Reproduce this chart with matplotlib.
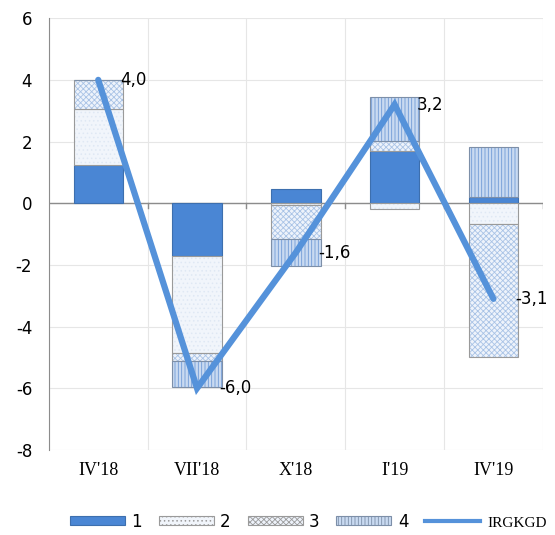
import numpy as np
import matplotlib.pyplot as plt
from matplotlib.patches import Patch
from matplotlib.lines import Line2D

plt.rcParams['hatch.linewidth'] = 0.6

# data
periods = ["IV'18", "VII'18", "X'18", "I'19", "IV'19"]
s1 = [1.25, -1.70, 0.45, 1.70, 0.20]
s2 = [1.80, -3.15, -0.07, -0.18, -0.68]
s3 = [0.95, -0.25, -1.08, 0.32, -4.30]
s4 = [0.00, -0.85, -0.90, 1.41, 1.62]
irgkgd = [4.0, -6.0, -1.6, 3.2, -3.1]
series_names = ['1', '2', '3', '4']

blue = '#4a86d4'
line_blue = '#5592da'
styles = [
    dict(facecolor=blue, edgecolor='#3d6fae', hatch=None),
    dict(facecolor='#f1f5fb', edgecolor='#9a9a9a', hatch='....', hc='#dfe8f4'),
    dict(facecolor='#eef3fb', edgecolor='#9a9a9a', hatch='xxxxxx', hc='#a9c3e6'),
    dict(facecolor='#c9daf1', edgecolor='#7d8fa8', hatch='|||||', hc='#6f9ad6'),
]

fig = plt.figure(figsize=(5.55, 5.35), dpi=100)
ax = fig.add_axes([0.088, 0.159, 0.890, 0.807])

x = np.arange(len(periods))
width = 0.5
pos_base = np.zeros(len(periods))
neg_base = np.zeros(len(periods))
for vals, st in zip([s1, s2, s3, s4], styles):
    vals = np.array(vals)
    bottoms = np.where(vals >= 0, pos_base, neg_base)
    bars = ax.bar(x, vals, width, bottom=bottoms, facecolor=st['facecolor'],
                  edgecolor=st['edgecolor'], linewidth=0.8, zorder=3)
    if st['hatch']:
        for b in bars:
            b.set_hatch(st['hatch'])
            b._hatch_color = plt.matplotlib.colors.to_rgba(st['hc'])
    pos_base += np.where(vals >= 0, vals, 0)
    neg_base += np.where(vals < 0, vals, 0)

ax.plot(x, irgkgd, color=line_blue, linewidth=4.5, zorder=4,
        solid_capstyle='round', solid_joinstyle='miter')
for xi, v in zip(x, irgkgd):
    ax.annotate(f'{v:.1f}'.replace('.', ','), (xi, v), xytext=(16, 0),
                textcoords='offset points', ha='left', va='center',
                fontsize=12, zorder=5)

ax.set_xlim(-0.5, len(periods) - 0.5)
ax.set_ylim(-8, 6)
ax.set_yticks(np.arange(-8, 7, 2))
ax.set_yticklabels([str(t) for t in range(-8, 7, 2)], fontsize=12)
ax.set_xticks(x)
ax.set_xticklabels(periods, fontsize=13, family='Liberation Serif')
ax.tick_params(axis='x', length=0, pad=9)
ax.tick_params(axis='y', length=0, pad=12)

for gy in range(-8, 7, 2):
    ax.axhline(gy, color='#e6e6e6', linewidth=0.8, zorder=0)
for gx in np.arange(-0.5, len(periods), 1.0):
    ax.axvline(gx, color='#e6e6e6', linewidth=0.8, zorder=0)
ax.axhline(0, color='#8c8c8c', linewidth=1.0, zorder=2)
for gx in np.arange(0.5, len(periods), 1.0):
    ax.plot([gx, gx], [0, -0.15], color='#8c8c8c', linewidth=1.0, zorder=2)

for side in ['top', 'right', 'bottom']:
    ax.spines[side].set_visible(False)
ax.spines['left'].set_color('#8c8c8c')

handles = []
for st, name in zip(styles, series_names):
    p = Patch(facecolor=st['facecolor'], edgecolor=st['edgecolor'],
              hatch=st['hatch'], label=name, linewidth=0.8)
    handles.append(p)
handles.append(Line2D([0], [0], color=line_blue, linewidth=3, label='IRGKGD'))
leg = fig.legend(handles=handles, loc='center', ncol=5, frameon=False,
                 bbox_to_anchor=(0.555, 0.025), fontsize=12, handlelength=3.3,
                 handleheight=0.45, columnspacing=1.0, handletextpad=0.4)
leg.get_texts()[-1].set_family('Liberation Serif')
leg.get_texts()[-1].set_fontsize(11)

fig.savefig('out.png', dpi=100)
